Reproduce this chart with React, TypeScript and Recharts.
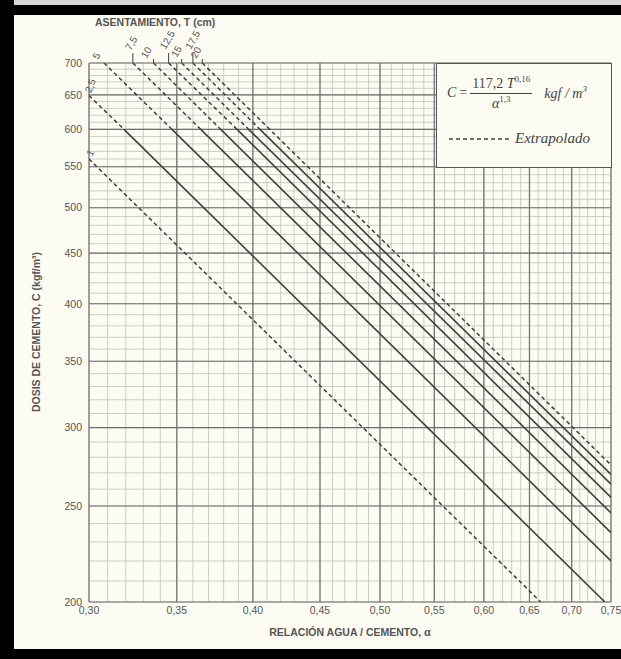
import React from 'react'
import {
  LineChart,
  Line,
  XAxis,
  YAxis,
  CartesianGrid,
  ReferenceLine,
  ReferenceDot,
} from 'recharts'

// slump T (cm) of each curve
const slumps = ['1', '2,5', '5', '7,5', '10', '12,5', '15', '17,5', '20']

// extrapolated (dashed) part of each curve: start -> end  (alpha, C)
const extraStartA = [0.3, 0.3, 0.308, 0.324, 0.336, 0.345, 0.353, 0.36, 0.366]
const extraStartC = [560, 649, 700, 700, 700, 700, 700, 700, 700]
const extraEndA = [0.663, 0.319, 0.347, 0.365, 0.378, 0.389, 0.397, 0.405, 0.75]
const extraEndC = [200, 600, 600, 600, 600, 600, 600, 600, 275]

// solid part goes from the end of the dashed part to here
const solidEndA = [null, 0.742, 0.75, 0.75, 0.75, 0.75, 0.75, 0.75, null]
const solidEndC = [null, 200, 220, 235, 246, 255, 263, 269, null]

const alphaMajor = [0.3, 0.35, 0.4, 0.45, 0.5, 0.55, 0.6, 0.65, 0.7, 0.75]
const doseMajor = [200, 250, 300, 350, 400, 450, 500, 550, 600, 650, 700]

// graph paper lines
const alphaTicks: number[] = []
for (let i = 30; i <= 75; i++) alphaTicks.push(i / 100)
const doseTicks: number[] = []
for (let v = 200; v <= 700; v += 10) doseTicks.push(v)

const LINE = '#3f3f3f'
const TEXT = '#555'
const PAPER = '#fdfcf3'

// where each slump label sits relative to the top of its curve
const labelPos = [
  { dx: 3, dy: -2, lift: 0, rot: -62 },
  { dx: 2, dy: -2, lift: 0, rot: -68 },
  { dx: -6, dy: -3, lift: 0, rot: -60 },
  { dx: -2, dy: -12, lift: 10, rot: -60 },
  { dx: -7, dy: -4, lift: 4, rot: -60 },
  { dx: -3, dy: -13, lift: 10, rot: -60 },
  { dx: -5, dy: -5, lift: 4, rot: -60 },
  { dx: -2, dy: -13, lift: 10, rot: -60 },
  { dx: -6, dy: -4, lift: 4, rot: -60 },
]

const fmtAlpha = (v: number) =>
  Math.round(v * 100) % 5 === 0 ? v.toFixed(2).replace('.', ',') : ''
const fmtDose = (v: number) => (v % 50 === 0 ? String(v) : '')

export default function App() {
  const dashed = slumps.map((_, i) => [
    { a: extraStartA[i], c: extraStartC[i] },
    { a: extraEndA[i], c: extraEndC[i] },
  ])
  const solid = slumps.map((_, i) =>
    solidEndA[i] == null
      ? null
      : [
          { a: extraEndA[i], c: extraEndC[i] },
          { a: solidEndA[i] as number, c: solidEndC[i] as number },
        ]
  )

  return (
    <div
      style={{
        position: 'absolute',
        left: 0,
        top: 0,
        width: 621,
        height: 659,
        background: PAPER,
        overflow: 'hidden',
        fontFamily: '"Liberation Sans", Arial, sans-serif',
      }}
    >
      {/* scan frame */}
      <div style={{ position: 'absolute', left: 0, top: 0, width: 621, height: 5, background: '#d8d8d8' }} />
      <div style={{ position: 'absolute', left: 0, top: 5, width: 621, height: 10, background: '#000' }} />
      <div style={{ position: 'absolute', left: 0, top: 0, width: 14, height: 659, background: '#000' }} />
      <div style={{ position: 'absolute', left: 0, top: 649, width: 621, height: 10, background: '#000' }} />

      <LineChart
        width={621}
        height={659}
        margin={{ top: 63, right: 10, bottom: 37, left: 49 }}
        style={{ position: 'absolute', left: 0, top: 0 }}
      >
        <CartesianGrid stroke="#c2c2b8" strokeWidth={0.8} />
        <XAxis
          dataKey="a"
          type="number"
          scale="log"
          domain={[0.3, 0.75]}
          allowDataOverflow
          ticks={alphaTicks}
          interval={0}
          tickFormatter={fmtAlpha}
          tickLine={false}
          axisLine={false}
          tickSize={0}
          tickMargin={5}
          height={20}
          tick={{ fill: TEXT, fontSize: 10.5 }}
        />
        <YAxis
          type="number"
          scale="log"
          domain={[200, 700]}
          allowDataOverflow
          ticks={doseTicks}
          interval={0}
          tickFormatter={fmtDose}
          tickLine={false}
          axisLine={false}
          tickSize={0}
          tickMargin={7}
          width={40}
          tick={{ fill: TEXT, fontSize: 10.5 }}
        />

        {alphaMajor.map((v) => (
          <ReferenceLine key={'x' + v} x={v} stroke="#6e6e6e" strokeWidth={1.2} />
        ))}
        {doseMajor.map((v) => (
          <ReferenceLine key={'y' + v} y={v} stroke="#6e6e6e" strokeWidth={1.2} />
        ))}

        {dashed.map((seg, i) => (
          <Line
            key={'d' + i}
            data={seg}
            dataKey="c"
            type="linear"
            stroke={LINE}
            strokeWidth={1.5}
            strokeDasharray="4 3"
            dot={false}
            isAnimationActive={false}
          />
        ))}
        {solid.map((seg, i) =>
          seg ? (
            <Line
              key={'s' + i}
              data={seg}
              dataKey="c"
              type="linear"
              stroke={LINE}
              strokeWidth={1.6}
              dot={false}
              isAnimationActive={false}
            />
          ) : null
        )}

        {slumps.map((t, i) => (
          <ReferenceDot
            key={'l' + i}
            x={extraStartA[i]}
            y={extraStartC[i]}
            r={0}
            ifOverflow="visible"
            shape={(p: any) => {
              const lp = labelPos[i]
              const x = p.cx + lp.dx
              const y = p.cy + lp.dy
              return (
                <g>
                  {lp.lift > 0 && (
                    <line x1={p.cx} y1={p.cy} x2={p.cx} y2={p.cy - lp.lift} stroke={LINE} strokeWidth={1} />
                  )}
                  <text
                    x={x}
                    y={y}
                    fontSize={10}
                    fill={TEXT}
                    textAnchor="start"
                    transform={`rotate(${lp.rot}, ${x}, ${y})`}
                  >
                    {t}
                  </text>
                </g>
              )
            }}
          />
        ))}
      </LineChart>

      {/* titles */}
      <div
        style={{
          position: 'absolute',
          left: 95,
          top: 16,
          fontSize: 10.5,
          fontWeight: 'bold',
          color: TEXT,
          whiteSpace: 'nowrap',
        }}
      >
        ASENTAMIENTO, T (cm)
      </div>
      <div
        style={{
          position: 'absolute',
          left: 350,
          top: 625,
          transform: 'translateX(-50%)',
          fontSize: 10.5,
          fontWeight: 'bold',
          color: TEXT,
          whiteSpace: 'nowrap',
        }}
      >
        RELACIÓN AGUA / CEMENTO, <span style={{ fontFamily: '"Liberation Serif", serif', fontSize: 12 }}>α</span>
      </div>
      <div
        style={{
          position: 'absolute',
          left: 36,
          top: 332,
          transform: 'translate(-50%, -50%) rotate(-90deg)',
          fontSize: 10.5,
          fontWeight: 'bold',
          color: TEXT,
          whiteSpace: 'nowrap',
        }}
      >
        DOSIS DE CEMENTO, C (kgf/m³)
      </div>

      {/* formula / legend box */}
      <div
        style={{
          position: 'absolute',
          left: 436,
          top: 63,
          width: 176,
          height: 105,
          boxSizing: 'border-box',
          border: '1.2px solid #555',
          background: PAPER,
          fontFamily: '"Liberation Serif", "DejaVu Serif", serif',
          color: '#444',
        }}
      >
        <div
          style={{
            position: 'absolute',
            left: 10,
            top: 10,
            display: 'flex',
            alignItems: 'center',
            whiteSpace: 'nowrap',
            fontSize: 14,
          }}
        >
          <span style={{ fontStyle: 'italic' }}>C</span>
          <span style={{ margin: '0 3px' }}>=</span>
          <span style={{ display: 'inline-flex', flexDirection: 'column', alignItems: 'center' }}>
            <span style={{ borderBottom: '1px solid #444', padding: '0 2px 1px' }}>
              117,2 <i>T</i>
              <sup style={{ fontSize: 9 }}>0,16</sup>
            </span>
            <span>
              <i>α</i>
              <sup style={{ fontSize: 9 }}>1,3</sup>
            </span>
          </span>
          <span style={{ marginLeft: 12, fontStyle: 'italic' }}>
            kgf / m<sup style={{ fontSize: 9 }}>3</sup>
          </span>
        </div>
        <div
          style={{
            position: 'absolute',
            left: 12,
            top: 66,
            display: 'flex',
            alignItems: 'center',
            whiteSpace: 'nowrap',
          }}
        >
          <svg width={60} height={6}>
            <line x1={0} y1={3} x2={60} y2={3} stroke={LINE} strokeWidth={1.5} strokeDasharray="4 3" />
          </svg>
          <span style={{ marginLeft: 6, fontSize: 15, fontStyle: 'italic' }}>Extrapolado</span>
        </div>
      </div>
    </div>
  )
}
